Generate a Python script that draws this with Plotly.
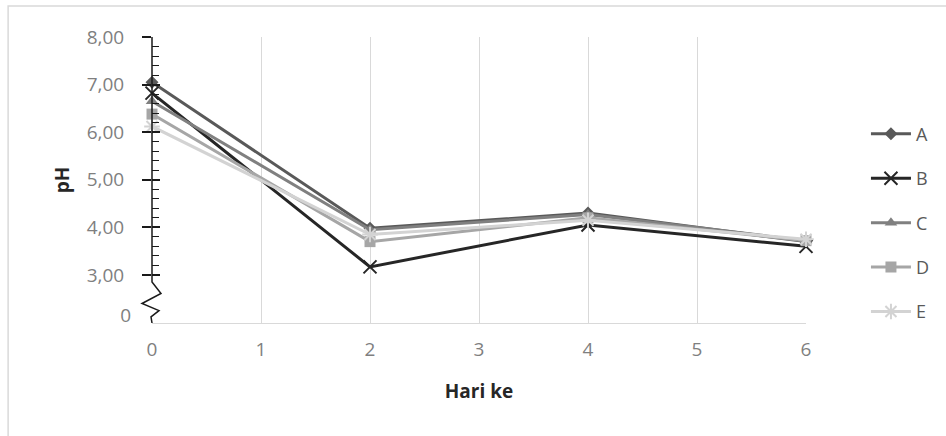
import plotly.graph_objects as go

# Sampling days and pH readings per treatment
hari = [0, 2, 4, 6]
ph_a = [7.05, 3.98, 4.30, 3.70]
ph_b = [6.82, 3.17, 4.05, 3.60]
ph_c = [6.65, 3.95, 4.27, 3.72]
ph_d = [6.38, 3.70, 4.20, 3.72]
ph_e = [6.12, 3.85, 4.15, 3.75]

names = ["A", "B", "C", "D", "E"]
values = [ph_a, ph_b, ph_c, ph_d, ph_e]

# y-axis labels (the scale is broken below 3,00 and "0" sits under the break)
y_major = [3, 4, 5, 6, 7, 8]
y_major_text = ["3,00", "4,00", "5,00", "6,00", "7,00", "8,00"]
y_zero_pos = 2.16
x_ticks = [0, 1, 2, 3, 4, 5, 6]

styles = {
    "A": dict(line="#595959", marker=dict(symbol="diamond", size=10, color="#595959")),
    "B": dict(line="#262626", marker=dict(symbol="x-thin-open", size=13,
                                          line=dict(width=2, color="#6e6e6e"))),
    "C": dict(line="#808080", marker=dict(symbol="triangle-up", size=11, color="#808080")),
    "D": dict(line="#a6a6a6", marker=dict(symbol="square", size=11, color="#a6a6a6")),
    "E": dict(line="#d3d3d3", marker=dict(symbol="asterisk-open", size=13,
                                          line=dict(width=2, color="#c8c8c8"))),
}

fig = go.Figure()
for name, vals in zip(names, values):
    st = styles[name]
    fig.add_trace(go.Scatter(
        x=hari, y=vals, name=name, mode="lines+markers",
        line=dict(color=st["line"], width=3),
        marker=st["marker"], cliponaxis=False, legendgroup=name,
    ))

FONT = "Open Sans, DejaVu Sans, sans-serif"
tick_font = dict(family=FONT, size=19, color="#7f7f7f")
title_font = dict(family=FONT, size=19, color="#262626")
y_range = [1.99, 8.0]

minor_vals = [round(3 + 0.2 * i, 2) for i in range(26)]
minor_vals = [v for v in minor_vals if abs(v - round(v)) > 1e-6]

fig.update_layout(
    width=946, height=436,
    margin=dict(l=152, r=139, t=37, b=113),
    paper_bgcolor="white", plot_bgcolor="white",
    showlegend=True,
    legend=dict(
        x=1.09, y=0.725, xanchor="left", yanchor="top",
        font=dict(family=FONT, size=18, color="#595959"),
        tracegroupgap=18, itemwidth=40, bgcolor="rgba(0,0,0,0)",
    ),
    xaxis=dict(
        range=[0, 6], tickvals=x_ticks, ticktext=[str(t) for t in x_ticks],
        showgrid=True, gridcolor="#d9d9d9", gridwidth=1,
        showline=True, linecolor="#d9d9d9", linewidth=1,
        ticks="", tickfont=tick_font, ticklabelstandoff=9,
        zeroline=False,
        title=dict(text="<b>Hari ke</b>", standoff=23, font=title_font),
    ),
    yaxis=dict(
        range=y_range, tickvals=y_major, ticktext=y_major_text,
        showgrid=False, zeroline=False, showline=False,
        ticks="outside", ticklen=9, tickwidth=1.5, tickcolor="#1a1a1a",
        tickfont=tick_font, ticklabelstandoff=14,
        minor=dict(tickvals=minor_vals, ticks="inside", ticklen=7, tickwidth=1.3,
                   tickcolor="#1a1a1a", showgrid=False),
        title=dict(text="<b>pH</b>", standoff=12, font=title_font),
    ),
    yaxis2=dict(
        range=y_range, overlaying="y", side="left", anchor="x",
        tickvals=y_major, showticklabels=False, showgrid=False, zeroline=False, showline=False,
        ticks="inside", ticklen=8, tickwidth=1.5, tickcolor="#1a1a1a",
    ),
    yaxis3=dict(
        range=y_range, overlaying="y", side="left", anchor="x",
        tickvals=[y_zero_pos], ticktext=["0"], ticks="",
        showgrid=False, zeroline=False, showline=False,
        tickfont=tick_font, ticklabelstandoff=20,
    ),
)

# invisible helpers so the overlay axes get drawn
fig.add_trace(go.Scatter(x=[None], y=[None], yaxis="y2", showlegend=False, hoverinfo="skip"))
fig.add_trace(go.Scatter(x=[None], y=[None], yaxis="y3", showlegend=False, hoverinfo="skip"))

# y-axis line with the scale-break zigzag (paper x so it is not clipped at the plot edge)
fig.add_shape(type="path", xref="paper", yref="y", xsizemode="pixel", xanchor=0,
              path="M0,8.0 L0,2.85 L9,2.61 L-10,2.40 L7,2.25 L-1,2.12 L0,1.99",
              line=dict(color="#1a1a1a", width=1.5))

# outer chart border
fig.add_shape(type="rect", xref="paper", yref="paper", x0=-0.22, x1=1.4, y0=-0.6, y1=1.108,
              line=dict(color="#d9d9d9", width=1.5), layer="below")

fig.write_html("out.html")
